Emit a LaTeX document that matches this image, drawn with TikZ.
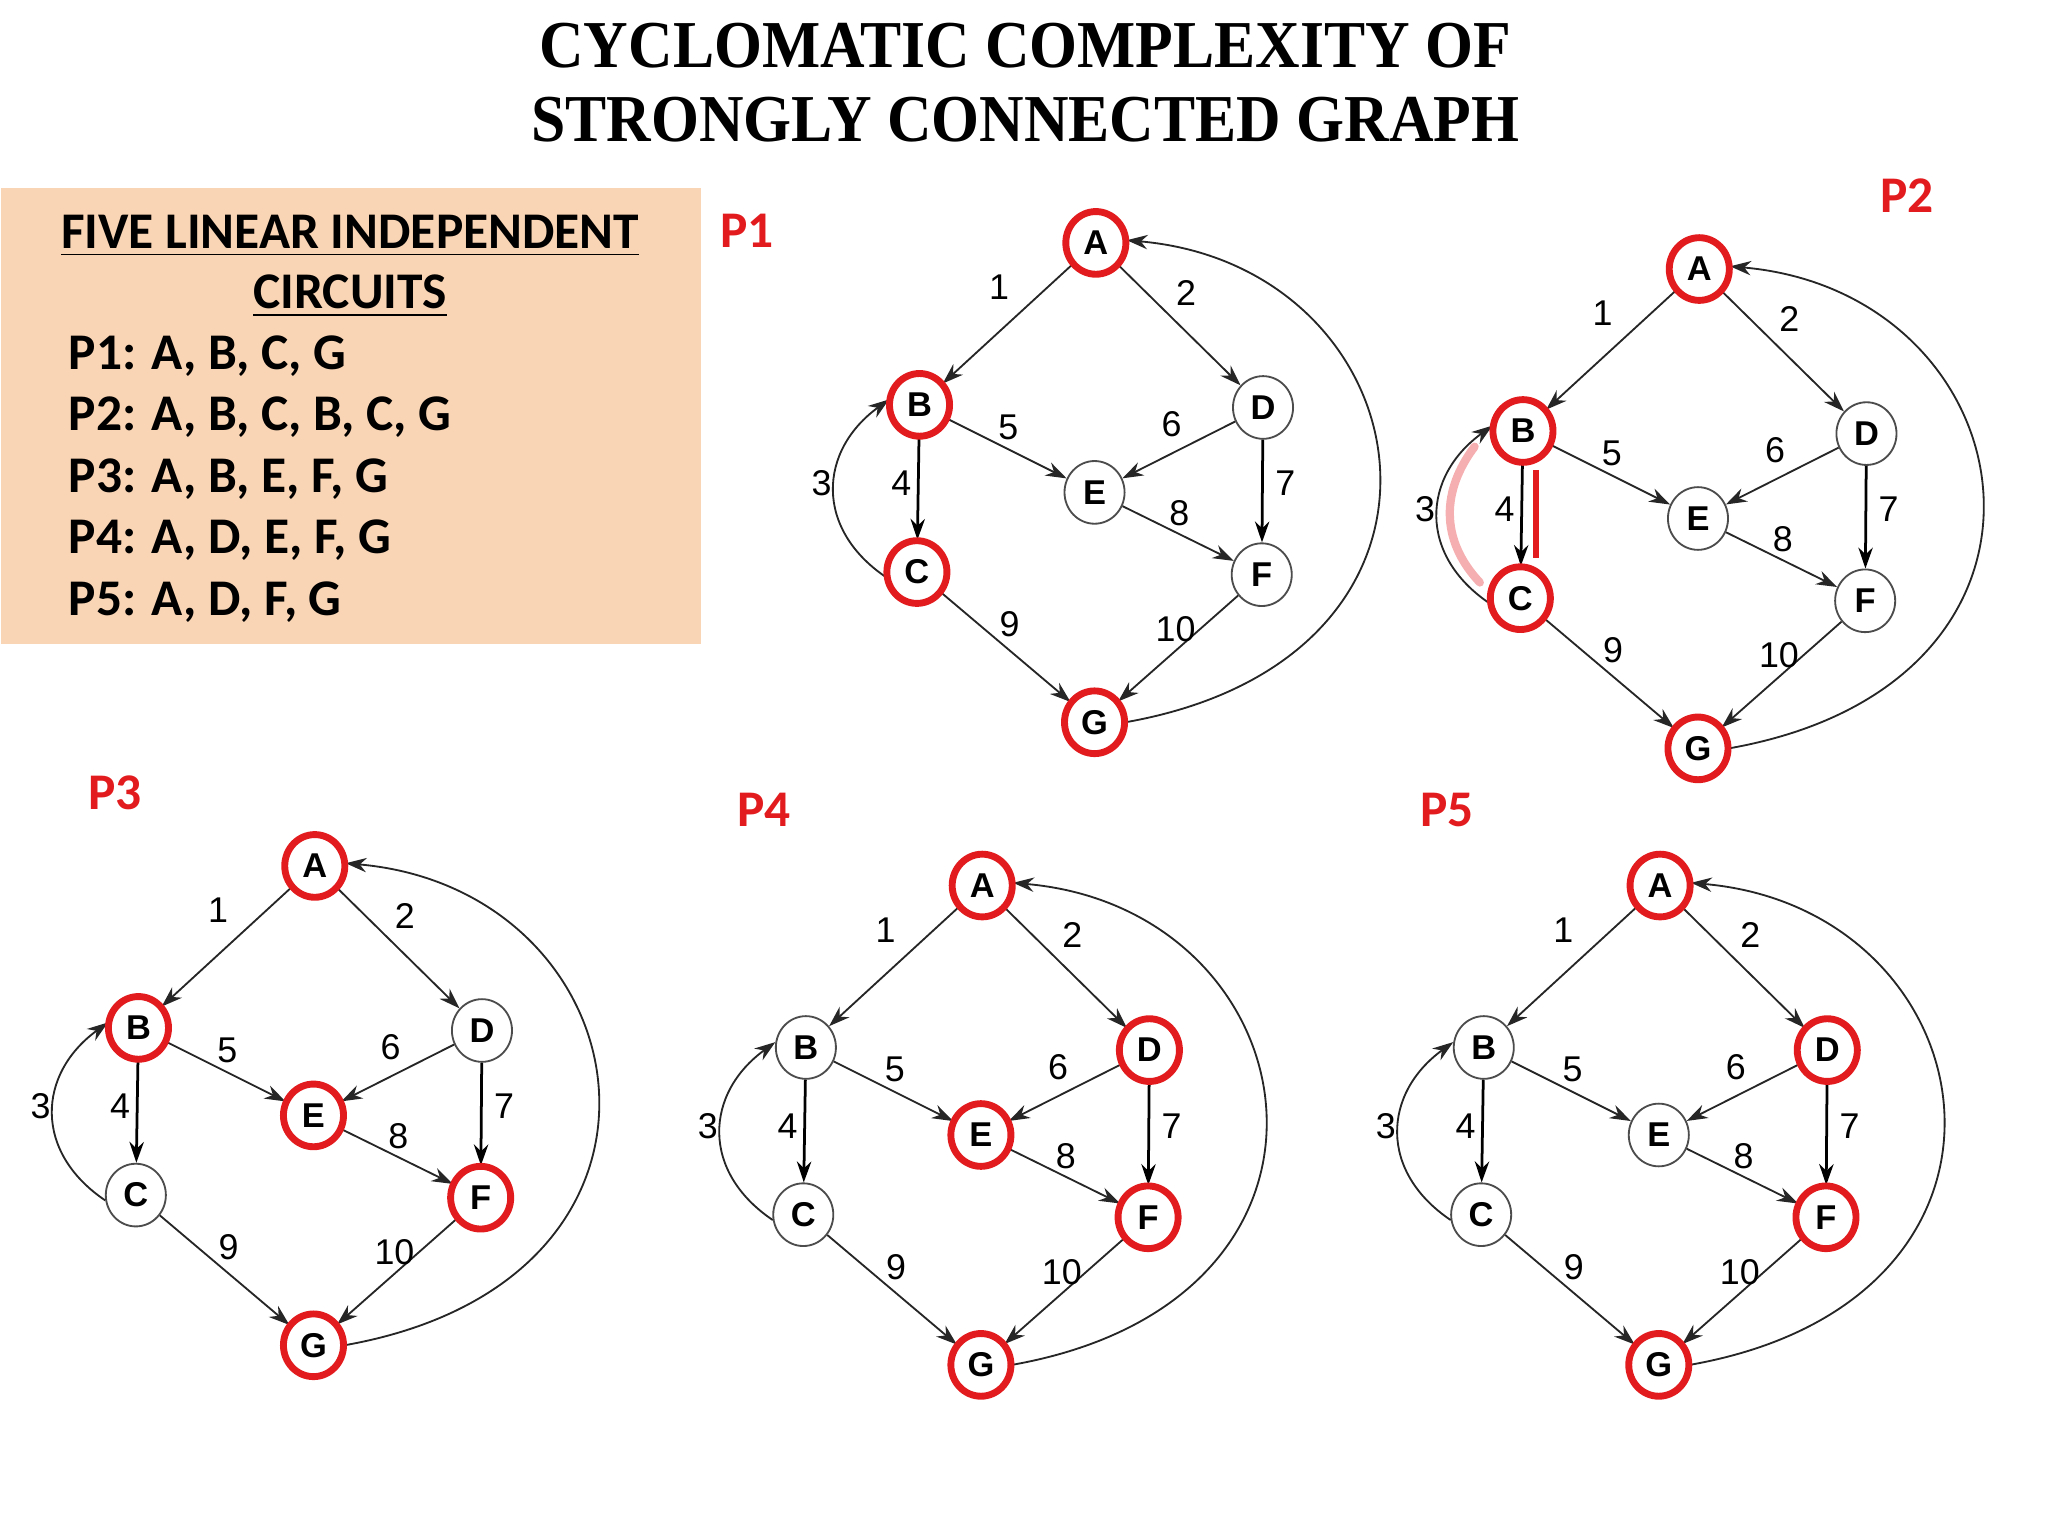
\documentclass[tikz,border=0pt]{standalone}
\usepackage{fontspec}
\usepackage{tikz}
\usetikzlibrary{arrows.meta,shapes.geometric,calc}
\newfontfamily\titlefont[FakeStretch=0.92]{Liberation Serif}
\newfontfamily\boxfont{Carlito}
\newfontfamily\graphfont{Liberation Sans}
\definecolor{peach}{RGB}{250,213,181}
\definecolor{markred}{RGB}{226,28,30}

\begin{document}
\begin{tikzpicture}[
    vertex/.style={ellipse, draw=black!70, line width=0.4pt, fill=white, minimum width=4.6mm, minimum height=4.8mm, inner sep=0pt, font=\graphfont\bfseries\fontsize{7.5}{8}\selectfont},
    hotring/.style={ellipse, draw=markred, line width=1.5pt, minimum width=4.6mm, minimum height=4.8mm, inner sep=0pt},
    link/.style={-{Stealth[length=1.6mm, width=1.1mm]}, line width=0.4pt, black!85},
    heavylink/.style={link, line width=0.6pt, black},
    edgenum/.style={font=\graphfont\fontsize{7.8}{8}\selectfont, inner sep=0pt},
    pathtag/.style={font=\boxfont\bfseries\fontsize{11.2}{13}\selectfont, text=markred, inner sep=0pt},
    boxline/.style={font=\boxfont\bfseries\fontsize{11.2}{13}\selectfont, inner sep=0pt, anchor=base west},
    titleline/.style={font=\titlefont\bfseries\fontsize{14.6}{16}\selectfont, inner sep=0pt, anchor=base}
]
\useasboundingbox (0,0) rectangle (15.68,11.76);

% Title
\node[titleline] (title1) at (7.85, 11.24) {CYCLOMATIC COMPLEXITY OF};
\node[titleline] (title2) at (7.85, 10.68) {STRONGLY CONNECTED GRAPH};

% Circuit list box - top left
\node[fill=peach, minimum width=5.36cm, minimum height=3.49cm, anchor=north west, inner sep=0pt] (circbox) at (0, 10.33) {};
\node[boxline, anchor=base] (boxhead1) at (2.68, 9.86) {\underline{FIVE LINEAR INDEPENDENT}};
\node[boxline, anchor=base] (boxhead2) at (2.68, 9.40) {\underline{CIRCUITS}};
\node[boxline] (circ1) at (0.52, 8.93) {P1: A, B, C, G};
\node[boxline] (circ2) at (0.52, 8.46) {P2: A, B, C, B, C, G};
\node[boxline] (circ3) at (0.52, 7.99) {P3: A, B, E, F, G};
\node[boxline] (circ4) at (0.52, 7.52) {P4: A, D, E, F, G};
\node[boxline] (circ5) at (0.52, 7.05) {P5: A, D, F, G};

% Path tags
\node[pathtag] (tagP1) at (5.72, 9.99) {P1};
\node[pathtag] (tagP2) at (14.60, 10.26) {P2};
\node[pathtag] (tagP3) at (0.88, 5.69) {P3};
\node[pathtag] (tagP4) at (5.85, 5.56) {P4};
\node[pathtag] (tagP5) at (11.08, 5.56) {P5};

% One graph per circuit, red rings on the visited nodes
\foreach \g/\ax/\ay/\hot in {p1/8.39/9.90/{A,B,C,G}, p2/13.01/9.70/{A,B,C,G}, p3/2.41/5.13/{A,B,E,F,G}, p4/7.52/4.98/{A,D,E,F,G}, p5/12.71/4.98/{A,D,F,G}} {
  \begin{scope}[shift={(\ax,\ay)}]
    \node[vertex] (\g A) at (0,0) {A};
    \node[vertex] (\g B) at (-1.35,-1.24) {B};
    \node[vertex] (\g C) at (-1.37,-2.52) {C};
    \node[vertex] (\g D) at (1.28,-1.26) {D};
    \node[vertex] (\g E) at (-0.01,-1.91) {E};
    \node[vertex] (\g F) at (1.27,-2.54) {F};
    \node[vertex] (\g G) at (-0.01,-3.67) {G};

    \draw[link] (\g A) -- (\g B);
    \draw[link] (\g A) -- (\g D);
    \draw[link] (\g C.190) to[out=146, in=216, looseness=1.25] (\g B.170);
    \draw[heavylink] (\g B) -- (\g C);
    \draw[link] (\g B) -- (\g E);
    \draw[link] (\g D) -- (\g E);
    \draw[heavylink] (\g D) -- (\g F);
    \draw[link] (\g E) -- (\g F);
    \draw[link] (\g C) -- (\g G);
    \draw[link] (\g F) -- (\g G);
    \draw[link] (\g G.east) to[out=10, in=-5, out looseness=2.0, in looseness=1.6] (\g A.5);

    \foreach \v in \hot {\node[hotring] (\g ring\v) at (\g\v) {};}

    \foreach \n/\lx/\ly in {1/-0.74/-0.34, 2/0.69/-0.38, 3/-2.10/-1.84, 4/-1.49/-1.84, 5/-0.67/-1.41, 6/0.58/-1.39, 7/1.45/-1.84, 8/0.64/-2.07, 9/-0.66/-2.92, 10/0.61/-2.96}
      {\node[edgenum] (\g num\n) at (\lx,\ly) {\n};}
  \end{scope}
}

% Hand marks on P2
\draw[markred, line width=1.2pt] ($(p2B)+(0.10,-0.30)$) -- ($(p2C)+(0.12,0.31)$);
\draw[markred!35, line width=1.8pt, line cap=round] ($(p2B)+(-0.37,-0.12)$) .. controls ($(p2B)+(-0.62,-0.45)$) and ($(p2C)+(-0.62,0.45)$) .. ($(p2C)+(-0.31,0.12)$);

\end{tikzpicture}
\end{document}
